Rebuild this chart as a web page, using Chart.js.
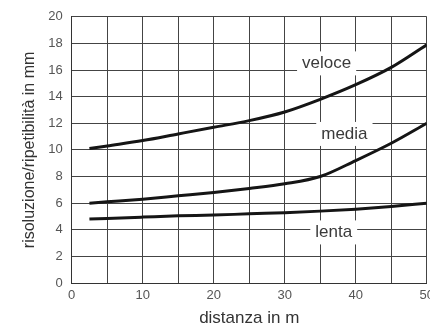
<!DOCTYPE html>
<html>
<head>
<meta charset="utf-8">
<script src="https://cdn.jsdelivr.net/npm/chart.js@4"></script>
<style>
  html, body { margin: 0; padding: 0; background: #fff; overflow: hidden; }
  #wrap { width: 439px; height: 327px; }
</style>
</head>
<body>
<div id="wrap"><canvas id="c"></canvas></div>
<script>
// distances (m) at which the curves were read
const distanze = [2.5, 5, 10, 15, 20, 25, 30, 35, 40, 45, 50];

// risoluzione/ripetibilità in mm
const veloce = [10.1, 10.3, 10.7, 11.2, 11.7, 12.2, 12.85, 13.8, 14.9, 16.2, 17.9];
const media  = [6.0, 6.1, 6.3, 6.55, 6.8, 7.1, 7.45, 8.0, 9.2, 10.5, 12.0];
const lenta  = [4.8, 4.85, 4.95, 5.05, 5.1, 5.2, 5.28, 5.4, 5.55, 5.75, 6.0];

// curve labels: [text, x, y]
const etichette = [
  ["veloce", 35.9, 16.5],
  ["media", 38.4, 11.2],
  ["lenta", 36.9, 3.8],
];

const FONT = "'Liberation Sans', Arial, sans-serif";

const toPoints = (ys) => ys.map((y, i) => ({ x: distanze[i], y }));

const curveLabels = {
  id: "curveLabels",
  afterDatasetsDraw(chart) {
    const { ctx, scales } = chart;
    ctx.save();
    ctx.font = "17px " + FONT;
    ctx.textAlign = "center";
    ctx.textBaseline = "middle";
    etichette.forEach(([t, x, y]) => {
      const px = scales.x.getPixelForValue(x);
      const py = scales.y.getPixelForValue(y);
      const w = ctx.measureText(t).width + 10;
      ctx.fillStyle = "#fff";
      ctx.fillRect(px - w / 2, py - 12, w, 24);
      ctx.fillStyle = "#3a3a3a";
      ctx.fillText(t, px, py);
    });
    ctx.restore();
  },
};

const line = (data) => ({
  data: toPoints(data),
  borderColor: "#151515",
  borderWidth: 3,
  pointRadius: 0,
  cubicInterpolationMode: "monotone",
  fill: false,
});

new Chart(document.getElementById("c"), {
  type: "line",
  data: { datasets: [line(veloce), line(media), line(lenta)] },
  plugins: [curveLabels],
  options: {
    responsive: true,
    maintainAspectRatio: false,
    animation: false,
    layout: { padding: { top: 12, right: 0, left: 20, bottom: 0 } },
    plugins: { legend: { display: false }, tooltip: { enabled: false } },
    scales: {
      x: {
        type: "linear",
        min: 0,
        max: 50,
        border: { color: "#333", width: 1 },
        grid: { color: "#444", lineWidth: 1, drawTicks: false },
        ticks: {
          stepSize: 5,
          padding: 5,
          color: "#555",
          font: { size: 13, family: FONT },
          callback: (v) => (v % 10 === 0 ? v : ""),
        },
        title: {
          display: true,
          text: "distanza in m",
          color: "#333",
          padding: { top: 0, bottom: -2 },
          font: { size: 17, family: FONT },
        },
      },
      y: {
        min: 0,
        max: 20,
        border: { color: "#333", width: 1 },
        grid: { color: "#444", lineWidth: 1, drawTicks: false },
        ticks: {
          stepSize: 2,
          padding: 9,
          color: "#555",
          font: { size: 13, family: FONT },
        },
        title: {
          display: true,
          text: "risoluzione/ripetibilità in mm",
          color: "#333",
          padding: { top: 0, bottom: 0 },
          font: { size: 16, family: FONT },
        },
      },
    },
  },
});
</script>
</body>
</html>
